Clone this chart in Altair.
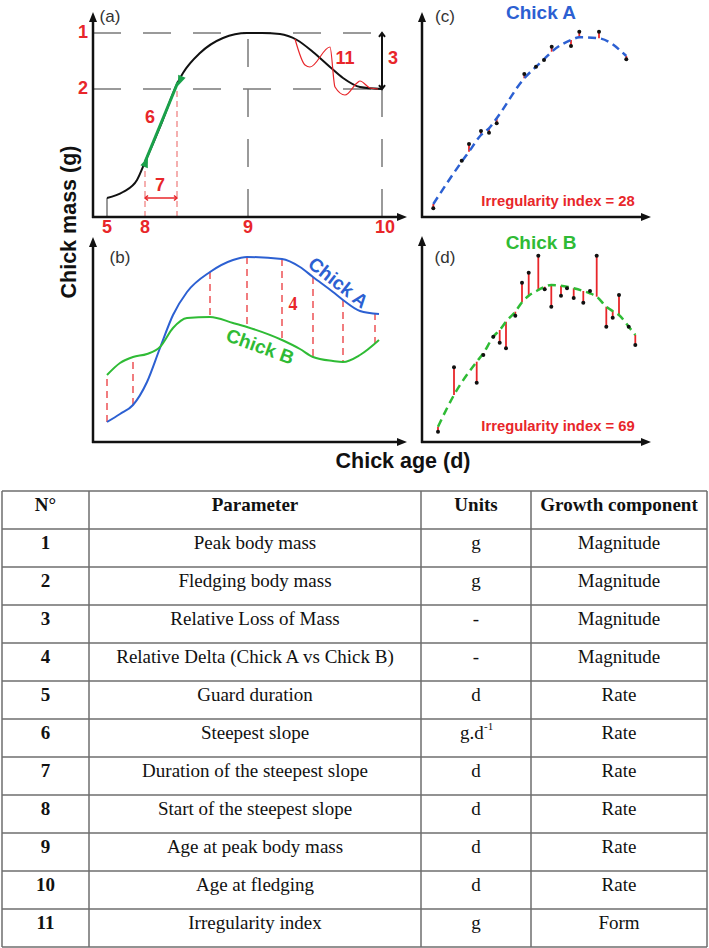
import altair as alt
import pandas as pd

W, H = 709, 948

# ---------------- Panel (a): schematic growth curve (age, mass in panel units) ----------------
a_curve_age = [14, 30, 44, 52, 69, 85, 90, 107, 130, 154, 169, 187, 204, 220, 237, 250, 267, 289]
a_curve_mass = [19, 25, 37, 55, 95, 135, 144, 164, 179, 184, 184, 183, 177, 165, 150, 139, 130, 128]
a_slope_age = [52, 85]
a_slope_mass = [55, 135]
a_wiggle_age = [202, 212, 217, 237, 242, 252, 264, 267, 277, 285]
a_wiggle_mass = [178, 152, 150, 170, 130, 122, 134, 136, 129, 128]
a_ref_mass = [184, 128]            # peak mass (1), fledging mass (2)
a_ref_mass_labels = ["1", "2"]
a_ref_age = [14, 52, 155, 289]     # guard (5), slope start (8), peak age (9), fledging (10)
a_ref_age_labels = ["5", "8", "9", "10"]
a_slope_end_age = 84

# ---------------- Panel (b): chick A vs chick B ----------------
b_age = [14, 27, 40, 54, 67, 80, 94, 117, 140, 154, 189, 207, 220, 240, 250, 267, 286]
b_chick_a = [20, 28, 37, 60, 94, 127, 150, 170, 182, 185, 183, 175, 165, 150, 142, 131, 128]
b_chick_b = [67, 79, 85, 88, 95, 114, 124, 125, 119, 115, 102, 93, 85, 81, 80, 87, 102]
b_delta_age = [14, 40, 117, 154, 189, 220, 250, 282]
b_delta_a = [20, 37, 170, 185, 183, 165, 142, 129]
b_delta_b = [67, 85, 125, 115, 102, 85, 80, 97]

# ---------------- Panel (c): chick A observations and fit ----------------
c_age = [11.3, 39.7, 47, 59, 67, 74.7, 102.3, 114, 122, 129.7, 149, 157.3, 177, 204.3]
c_obs = [8.7, 56.3, 73, 86, 84.3, 93.7, 143, 150.3, 157, 170.3, 171, 185.3, 185.3, 157.7]
c_fit = [13, 55.3, 65.3, 82, 88.7, 98.7, 138.7, 150.3, 157.7, 165.3, 177, 179.7, 178.7, 161]

# ---------------- Panel (d): chick B observations and fit ----------------
d_age = [16, 32, 54.7, 61.3, 71.3, 77.7, 84, 93.3, 100, 106.7, 116.3, 122.7, 129.3, 139,
         145, 151.7, 161.3, 168, 174.7, 184.3, 190.7, 197, 206.7, 213.3]
d_obs = [10.3, 74.7, 59.3, 87, 105.3, 99.3, 93.7, 126.3, 159.3, 169.3, 186.3, 152.7, 135.3, 146.3,
         153.7, 144, 139.3, 151, 186.3, 115.3, 124.3, 147, 115.3, 97]
d_fit = [15.3, 47, 80.3, 88.7, 105.3, 112, 120.3, 130.3, 139.7, 146.3, 152, 155.3, 157, 156.3,
         155.3, 153.7, 151, 148.7, 145.3, 135.3, 131, 127, 115.3, 107]

# ---------------- Table ----------------
tab_header = ["N°", "Parameter", "Units", "Growth component"]
tab_no = ["1", "2", "3", "4", "5", "6", "7", "8", "9", "10", "11"]
tab_param = ["Peak body mass", "Fledging body mass", "Relative Loss of Mass",
             "Relative Delta (Chick A vs Chick B)", "Guard duration", "Steepest slope",
             "Duration of the steepest slope", "Start of the steepest slope",
             "Age at peak body mass", "Age at fledging", "Irregularity index"]
tab_units = ["g", "g", "-", "-", "d", "g.d^-1", "d", "d", "d", "d", "g"]
tab_comp = ["Magnitude", "Magnitude", "Magnitude", "Magnitude", "Rate", "Rate", "Rate",
            "Rate", "Rate", "Rate", "Form"]

# ---------------- styling / layout ----------------
RED = "#e8262a"
BLUE = "#2c60d2"
GREEN_B = "#2fbb35"
GREEN_SLOPE = "#1aa14a"
GRAY = "#7a7a7a"
INK = "#111111"
SANS = "Liberation Sans"
SERIF = "Liberation Serif"
TAB_FS = 19

ORIG = {"a": (93, 217), "b": (93, 442), "c": (422, 217), "d": (422, 442)}
AXIS_TIP = {"a": (314, 205), "b": (314, 205), "c": (229, 205), "d": (229, 206)}


def cx(p, v):
    return ORIG[p][0] + v


def cy(p, v):
    return ORIG[p][1] - v


XS = alt.Scale(domain=[0, W], nice=False, zero=False)
YS = alt.Scale(domain=[0, H], nice=False, zero=False, reverse=True)


def xy():
    return dict(x=alt.X("x:Q", scale=XS, axis=None), y=alt.Y("y:Q", scale=YS, axis=None))


def rules(rows, **mk):
    return alt.Chart(pd.DataFrame(rows)).mark_rule(**mk).encode(**xy(), x2="x2:Q", y2="y2:Q")


def curve(p, ages, masses, **mk):
    df = pd.DataFrame({"x": [cx(p, a) for a in ages], "y": [cy(p, m) for m in masses],
                       "o": list(range(len(ages)))})
    return alt.Chart(df).mark_line(**mk).encode(**xy(), order="o:Q")


def symbols(rows, **mk):
    return alt.Chart(pd.DataFrame(rows)).mark_point(**mk).encode(
        **xy(), angle=alt.Angle("angle:Q", scale=None))


def texts(rows, font, weight, align="center"):
    df = pd.DataFrame(rows, columns=["text", "x", "y", "size", "color", "angle"])
    return alt.Chart(df).mark_text(font=font, fontWeight=weight, align=align, baseline="middle").encode(
        **xy(), text="text:N", size=alt.Size("size:Q", scale=None),
        color=alt.Color("color:N", scale=None), angle=alt.Angle("angle:Q", scale=None))


layers = []

# --- panel (a) reference lines ---
gray_rows = [dict(x=cx("a", 0), y=cy("a", m), x2=cx("a", a_ref_age[3]), y2=cy("a", m)) for m in a_ref_mass]
gray_rows += [dict(x=cx("a", a_ref_age[2]), y=cy("a", 0), x2=cx("a", a_ref_age[2]), y2=cy("a", a_ref_mass[0])),
              dict(x=cx("a", a_ref_age[3]), y=cy("a", 0), x2=cx("a", a_ref_age[3]), y2=cy("a", a_ref_mass[1]))]
layers.append(rules(gray_rows, color=GRAY, strokeWidth=1.5, strokeDash=[28, 22]))

red_a_rows = [dict(x=cx("a", a_ref_age[1]), y=cy("a", 0), x2=cx("a", a_ref_age[1]), y2=cy("a", a_slope_mass[0])),
              dict(x=cx("a", a_slope_end_age), y=cy("a", 0), x2=cx("a", a_slope_end_age), y2=cy("a", a_ref_mass[1]))]
layers.append(rules(red_a_rows, color="#ef7b7b", strokeWidth=1.2, strokeDash=[6, 4]))

layers.append(rules([dict(x=cx("a", a_ref_age[0]), y=cy("a", 0), x2=cx("a", a_ref_age[0]), y2=cy("a", a_curve_mass[0]))],
                    color="#555555", strokeWidth=1.2))

# --- panel (b) delta lines ---
delta_rows = [dict(x=cx("b", a), y=cy("b", ya), x2=cx("b", a), y2=cy("b", yb))
              for a, ya, yb in zip(b_delta_age, b_delta_a, b_delta_b)]
layers.append(rules(delta_rows, color=RED, strokeWidth=1.2, strokeDash=[7, 5]))

# --- axes ---
axis_rows, tri_rows = [], []
for p, (tx, ty) in AXIS_TIP.items():
    axis_rows.append(dict(x=cx(p, -1), y=cy(p, 0), x2=cx(p, tx - 8), y2=cy(p, 0)))
    axis_rows.append(dict(x=cx(p, 0), y=cy(p, -1), x2=cx(p, 0), y2=cy(p, ty - 8)))
    tri_rows.append(dict(x=cx(p, tx - 5), y=cy(p, 0), angle=90))
    tri_rows.append(dict(x=cx(p, 0), y=cy(p, ty - 5), angle=0))
layers.append(rules(axis_rows, color=INK, strokeWidth=2.5))
layers.append(symbols(tri_rows, shape="M0,-1L0.8,1L-0.8,1Z", filled=True, color=INK, opacity=1, size=100))

# --- panel (a) curves ---
layers.append(curve("a", a_curve_age, a_curve_mass, color=INK, strokeWidth=2, interpolate="monotone"))
layers.append(curve("a", a_wiggle_age, a_wiggle_mass, color=RED, strokeWidth=1.2, interpolate="monotone"))
layers.append(curve("a", a_slope_age, a_slope_mass, color=GREEN_SLOPE, strokeWidth=3))
layers.append(symbols([dict(x=cx("a", a_slope_age[0]) + 1, y=cy("a", a_slope_mass[0]), angle=22),
                       dict(x=cx("a", a_slope_age[1]) + 2, y=cy("a", a_slope_mass[1]) - 1, angle=202)],
                      shape="M0,-1L0.8,1L-0.8,1Z", filled=True, color=GREEN_SLOPE, opacity=1, size=100))

# double arrows (3) and (7)
layers.append(rules([dict(x=cx("a", a_ref_age[3]), y=cy("a", a_ref_mass[0]), x2=cx("a", a_ref_age[3]), y2=cy("a", a_ref_mass[1]))],
                    color=INK, strokeWidth=2))
layers.append(symbols([dict(x=cx("a", a_ref_age[3]), y=cy("a", a_ref_mass[0]), angle=0),
                       dict(x=cx("a", a_ref_age[3]), y=cy("a", a_ref_mass[1]), angle=180)],
                      shape="M-1,1.3L0,0L1,1.3", filled=False, color=INK, strokeWidth=2, opacity=1, size=36))
layers.append(rules([dict(x=cx("a", a_ref_age[1]), y=cy("a", a_curve_mass[0]), x2=cx("a", a_slope_end_age), y2=cy("a", a_curve_mass[0]))],
                    color=RED, strokeWidth=1.5))
layers.append(symbols([dict(x=cx("a", a_ref_age[1]), y=cy("a", a_curve_mass[0]), angle=270),
                       dict(x=cx("a", a_slope_end_age), y=cy("a", a_curve_mass[0]), angle=90)],
                      shape="M-1,1.2L0,0L1,1.2", filled=False, color=RED, strokeWidth=1.5, opacity=1, size=25))

# --- panel (b) curves ---
layers.append(curve("b", b_age, b_chick_a, color=BLUE, strokeWidth=2, interpolate="monotone"))
layers.append(curve("b", b_age, b_chick_b, color=GREEN_B, strokeWidth=2, interpolate="monotone"))

# --- panels (c), (d) ---
for p, ages, obs, fit, col in [("c", c_age, c_obs, c_fit, BLUE), ("d", d_age, d_obs, d_fit, GREEN_B)]:
    res = [dict(x=cx(p, a), y=cy(p, o), x2=cx(p, a), y2=cy(p, f)) for a, o, f in zip(ages, obs, fit)]
    layers.append(rules(res, color=RED, strokeWidth=1.8))
    layers.append(curve(p, ages, fit, color=col, strokeWidth=2.5, strokeDash=[8, 5], interpolate="monotone"))
    dots = pd.DataFrame({"x": [cx(p, a) for a in ages], "y": [cy(p, o) for o in obs]})
    layers.append(alt.Chart(dots).mark_circle(size=16, color=INK, opacity=1).encode(**xy()))

# --- texts ---
sans_bold = [
    ("Chick mass (g)", 70, 222, 21.5, INK, 270),
    ("Chick age (d)", 403, 462, 21.5, INK, 0),
    ("Chick A", 541, 13, 19, BLUE, 0),
    ("Chick B", 541, 243, 19, GREEN_B, 0),
    ("Chick A", 338, 283, 19, BLUE, 38),
    ("Chick B", 260, 347, 19, GREEN_B, 20),
    ("Irregularity index = 28", 558, 202, 14.8, RED, 0),
    ("Irregularity index = 69", 558, 427, 14.8, RED, 0),
    ("6", 150, 118, 18, RED, 0),
    ("7", 160, 186, 18, RED, 0),
    ("11", 345, 59, 18, RED, 0),
    ("3", 393, 59, 18, RED, 0),
]
sans_bold += [(lab, 83, cy("a", m), 18, RED, 0) for lab, m in zip(a_ref_mass_labels, a_ref_mass)]
sans_bold += [(lab, cx("a", a) + (3 if lab == "10" else 0), 228, 18, RED, 0)
              for lab, a in zip(a_ref_age_labels, a_ref_age)]
layers.append(texts(sans_bold, SANS, "bold"))

sans_reg = [("(a)", 110, 17, 17, "#333333", 0), ("(b)", 120, 258, 17, "#333333", 0),
            ("(c)", 445, 17, 17, "#333333", 0), ("(d)", 445, 258, 17, "#333333", 0)]
layers.append(texts(sans_reg, SANS, "normal"))

# --- table ---
TOP, ROW_H = 491, 38
COLS = [2, 89, 421, 531, 707]
n_rows = len(tab_no) + 1
grid = [dict(x=COLS[0], y=TOP + ROW_H * r, x2=COLS[-1], y2=TOP + ROW_H * r) for r in range(n_rows + 1)]
grid += [dict(x=c, y=TOP, x2=c, y2=TOP + ROW_H * n_rows) for c in COLS]
layers.append(rules(grid, color="#6e6e6e", strokeWidth=1.5))

centers = [(COLS[i] + COLS[i + 1]) / 2 for i in range(4)]
ty = lambda r: TOP + ROW_H * r + 14
serif_bold = [(h, centers[i], ty(0), TAB_FS, INK, 0) for i, h in enumerate(tab_header)]
serif_bold += [(n, centers[0], ty(r + 1), TAB_FS, INK, 0) for r, n in enumerate(tab_no)]
serif_bold += [("4", 293, 305, 18, RED, 0)]
layers.append(texts(serif_bold, SERIF, "bold"))

serif_reg, serif_left = [], []
for r, (par, u, comp) in enumerate(zip(tab_param, tab_units, tab_comp)):
    serif_reg.append((par, centers[1], ty(r + 1), TAB_FS, INK, 0))
    serif_reg.append((comp, centers[3], ty(r + 1), TAB_FS, INK, 0))
    if "^" in u:
        base, sup = u.split("^")
        serif_left.append((base, centers[2] - 16, ty(r + 1), TAB_FS, INK, 0))
        serif_left.append((sup, centers[2] + 8, ty(r + 1) - 6, 11, INK, 0))
    else:
        serif_reg.append((u, centers[2], ty(r + 1), TAB_FS, INK, 0))
layers.append(texts(serif_reg, SERIF, "normal"))
layers.append(texts(serif_left, SERIF, "normal", align="left"))

chart = alt.layer(*layers).properties(
    width=W, height=H, padding=0, autosize="none", background="white"
).configure_view(stroke=None)

chart.save("out.html", embed_options={"renderer": "svg", "actions": False})
